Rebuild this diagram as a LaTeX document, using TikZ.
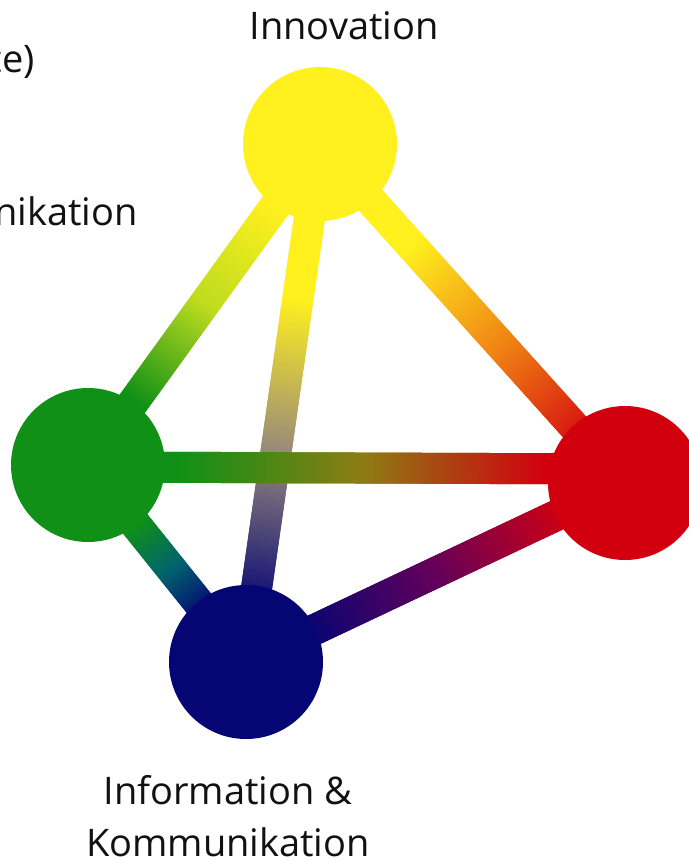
\documentclass[tikz,border=0pt]{standalone}
\usepackage{fontspec}
\setmainfont{Open Sans}
\usetikzlibrary{calc}
\pgfdeclarelayer{bg}
\pgfdeclarelayer{paper}
\pgfsetlayers{paper,bg,main}
\definecolor{cyel}{RGB}{255,240,30}
\definecolor{cgrn}{RGB}{16,144,22}
\definecolor{cred}{RGB}{210,0,15}
\definecolor{cblu}{RGB}{5,5,115}
\definecolor{myg}{RGB}{190,220,30}
\definecolor{myo}{RGB}{240,130,20}
\definecolor{mgr}{RGB}{150,135,125}
\definecolor{mte}{RGB}{0,100,110}
\definecolor{mpu}{RGB}{100,0,90}
\definecolor{mol}{RGB}{140,125,20}
\definecolor{txt}{RGB}{17,17,17}
\tikzset{
  ball/.style={circle, minimum size=154pt, inner sep=0pt, draw=none},
  conn/.style={line width=31pt, line cap=butt},
  lbl/.style={text=txt, font=\fontsize{38}{52}\selectfont, inner sep=0pt}
}
\newcommand\gradcon[7]{%
 \foreach \i in {0,...,199}{%
   \pgfmathsetmacro\gT{(\i+0.5)/200}%
   \pgfmathsetmacro\gP{max(0,min(100,100*(\gT-#6)/(#7-#6)))}%
   \pgfmathsetmacro\gA{\i/200}%
   \pgfmathsetmacro\gB{min(1,(\i+2)/200)}%
   \ifdim\gP pt<50pt
     \pgfmathsetmacro\gQ{2*\gP}\colorlet{segc}{#4!\gQ!#3}%
   \else
     \pgfmathsetmacro\gQ{2*\gP-100}\colorlet{segc}{#5!\gQ!#4}%
   \fi
   \draw[conn, segc] ($(#1)!\gA!(#2)$) -- ($(#1)!\gB!(#2)$);
 }}
\begin{document}
\begin{tikzpicture}[x=1pt,y=-1pt]
\useasboundingbox (0,0) rectangle (688,862);
\begin{pgfonlayer}{paper}
\fill[white] (0,0) rectangle (688,862);
\end{pgfonlayer}
\node[ball, fill=cyel] (y) at (320,144) {};
\node[ball, fill=cgrn] (g) at (88,465) {};
\node[ball, fill=cred] (r) at (625,483) {};
\node[ball, fill=cblu] (b) at (246,662) {};
\coordinate (gl) at ($(g)+(0,2)$);
\coordinate (rl) at ($(r)+(0,-14)$);
\begin{pgfonlayer}{bg}
\gradcon{y}{g}{cyel}{myg}{cgrn}{0.2}{0.8}
\gradcon{y}{r}{cyel}{myo}{cred}{0.3}{0.9}
\gradcon{y}{b}{cyel}{mgr}{cblu}{0.3}{0.9}
\gradcon{g}{b}{cgrn}{mte}{cblu}{0.3}{0.75}
\gradcon{b}{r}{cblu}{mpu}{cred}{0.15}{0.85}
\gradcon{gl}{rl}{cgrn}{mol}{cred}{0.17}{0.85}
\end{pgfonlayer}
\node[lbl, anchor=base] (t1) at (344,39) {Innovation};
\node[lbl, anchor=base, align=center] (t2) at (228,856) {Information \&\\Kommunikation};
\node[lbl, anchor=base east] (t3) at (35,72) {te)};
\node[lbl, anchor=base east] (t4) at (138,225) {nikation};
\end{tikzpicture}
\end{document}
